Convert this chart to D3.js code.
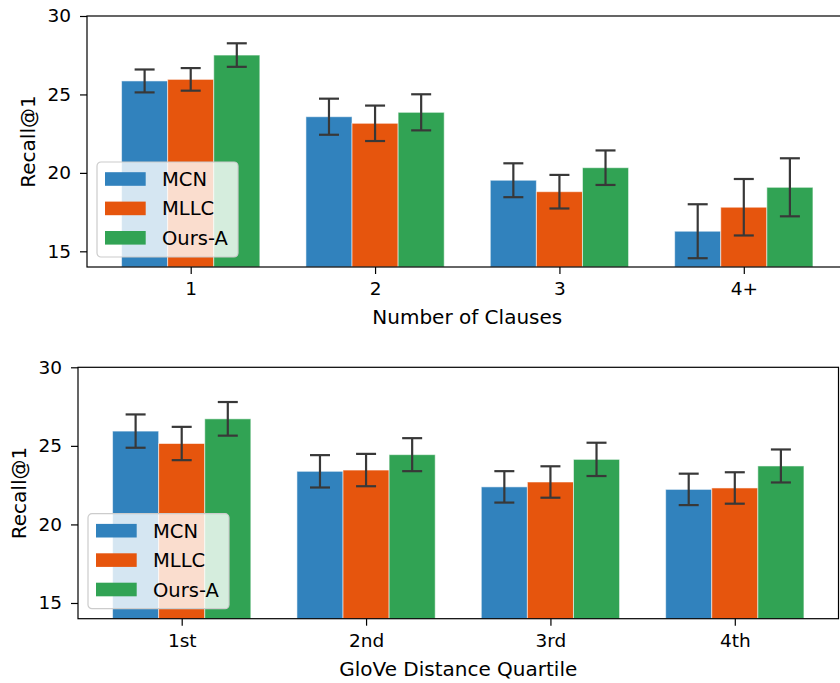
<!DOCTYPE html>
<html>
<head>
<meta charset="utf-8">
<script src="https://cdn.jsdelivr.net/npm/d3@7"></script>
<style>
    body { margin: 0; background: #fff; }
    svg { display: block; font-family: 'DejaVu Sans', sans-serif; }
</style>
</head>
<body>
<div id="chart"></div>
<script>
// Recall@1 per method

const seriesNames = ['MCN', 'MLLC', 'Ours-A'];
const seriesColors = ['#3182bd', '#e6550d', '#31a354'];
const yTicks = [15, 20, 25, 30];

// top panel: number of clauses
const clauseCats = ['1', '2', '3', '4+'];
const clauseMCN = [25.86, 23.58, 19.53, 16.28];
const clauseMLLC = [25.96, 23.16, 18.80, 17.81];
const clauseOurs = [27.51, 23.86, 20.33, 19.08];
const clauseErrMCN = [0.73, 1.15, 1.08, 1.72];
const clauseErrMLLC = [0.72, 1.13, 1.07, 1.80];
const clauseErrOurs = [0.75, 1.15, 1.10, 1.85];

// bottom panel: glove distance quartile
const gloveCats = ['1st', '2nd', '3rd', '4th'];
const gloveMCN = [25.94, 23.38, 22.39, 22.23];
const gloveMLLC = [25.15, 23.46, 22.70, 22.32];
const gloveOurs = [26.72, 24.44, 24.14, 23.72];
const gloveErrMCN = [1.06, 1.03, 1.00, 1.00];
const gloveErrMLLC = [1.06, 1.03, 1.00, 1.00];
const gloveErrOurs = [1.07, 1.05, 1.06, 1.05];

const W = 840;
const H = 683;
const tickFont = 18.5;
const legendFont = 19.5;
const labelFont = 20;
const barW = 0.25;

const svg = d3.select('#chart').append('svg')
    .attr('width', W)
    .attr('height', H);

const drawPanel = (p) => {
    const x = d3.scaleLinear()
        .domain([-0.5625, p.cats.length - 1 + 0.5625])
        .range([p.left, p.left + 760.5]);
    const y = d3.scaleLinear()
        .domain([14, 30])
        .range([p.bottom, p.top]);

    const g = svg.append('g');

    // flatten into one row per bar
    const bars = [];
    p.values.forEach((vals, s) => {
        vals.forEach((v, i) => {
            bars.push({ s, i, v, err: p.errs[s][i], cx: i + (s - 1) * barW });
        });
    });

    g.selectAll('.bar')
        .data(bars)
        .enter().append('rect')
        .attr('class', 'bar')
        .attr('x', d => x(d.cx - barW / 2))
        .attr('width', d => x(d.cx + barW / 2) - x(d.cx - barW / 2))
        .attr('y', d => y(d.v))
        .attr('height', d => y(14) - y(d.v))
        .style('fill', d => seriesColors[d.s])
        .style('stroke', '#fff')
        .style('stroke-opacity', 0.55)
        .style('stroke-width', 1);

    const eb = g.selectAll('.err')
        .data(bars)
        .enter().append('g')
        .attr('class', 'err')
        .style('stroke', '#383838')
        .style('stroke-width', 2.2);
    eb.append('line')
        .attr('x1', d => x(d.cx)).attr('x2', d => x(d.cx))
        .attr('y1', d => y(d.v - d.err)).attr('y2', d => y(d.v + d.err));
    eb.append('line')
        .attr('x1', d => x(d.cx) - 10).attr('x2', d => x(d.cx) + 10)
        .attr('y1', d => y(d.v + d.err)).attr('y2', d => y(d.v + d.err));
    eb.append('line')
        .attr('x1', d => x(d.cx) - 10).attr('x2', d => x(d.cx) + 10)
        .attr('y1', d => y(d.v - d.err)).attr('y2', d => y(d.v - d.err));

    // frame
    g.append('rect')
        .attr('x', x.range()[0])
        .attr('y', p.top)
        .attr('width', x.range()[1] - x.range()[0])
        .attr('height', p.bottom - p.top)
        .style('fill', 'none')
        .style('stroke', '#000')
        .style('stroke-width', 1.2);

    const yAxis = g.append('g')
        .attr('transform', `translate(${p.left},0)`)
        .call(d3.axisLeft(y).tickValues(yTicks).tickSize(7).tickPadding(9));
    const xAxis = g.append('g')
        .attr('transform', `translate(0,${p.bottom})`)
        .call(d3.axisBottom(x).tickValues(d3.range(p.cats.length)).tickFormat(i => p.cats[i]).tickSize(7).tickPadding(8));
    [xAxis, yAxis].forEach((a) => {
        a.select('.domain').remove();
        a.selectAll('line').style('stroke', '#000').style('stroke-width', 1.2);
        a.selectAll('text')
            .style('font-size', `${tickFont}px`)
            .style('font-family', 'DejaVu Sans')
            .style('fill', '#000');
    });

    // axis titles, centred on the axes box like matplotlib does
    g.append('text')
        .attr('x', d3.mean(x.range()))
        .attr('y', p.bottom + 57)
        .style('text-anchor', 'middle')
        .style('font-size', `${labelFont}px`)
        .text(p.xLabel);

    g.append('text')
        .attr('transform', `translate(${p.left - 52.5},${(p.top + p.bottom) / 2}) rotate(-90)`)
        .style('text-anchor', 'middle')
        .style('font-size', `${labelFont}px`)
        .text('Recall@1');

    // legend, lower left
    const lx = p.left + 10;
    const ly = p.bottom - 10 - 95;
    const legend = g.append('g').attr('transform', `translate(${lx},${ly})`);
    legend.append('rect')
        .attr('width', 141)
        .attr('height', 95)
        .attr('rx', 4)
        .style('fill', '#fff')
        .style('fill-opacity', 0.8)
        .style('stroke', '#ccc')
        .style('stroke-width', 1.2);
    const item = legend.selectAll('.legend-item')
        .data(seriesNames)
        .enter().append('g')
        .attr('class', 'legend-item')
        .attr('transform', (d, i) => `translate(0,${17 + i * 29.4})`);
    item.append('rect')
        .attr('x', 8)
        .attr('y', -6.8)
        .attr('width', 40.7)
        .attr('height', 13.6)
        .style('fill', (d, i) => seriesColors[i]);
    item.append('text')
        .attr('x', 65)
        .attr('dy', '0.36em')
        .style('font-size', `${legendFont}px`)
        .text(d => d);
};

drawPanel({
    left: 87, top: 16, bottom: 267,
    cats: clauseCats,
    values: [clauseMCN, clauseMLLC, clauseOurs],
    errs: [clauseErrMCN, clauseErrMLLC, clauseErrOurs],
    xLabel: 'Number of Clauses'
});

drawPanel({
    left: 78, top: 367.3, bottom: 618.7,
    cats: gloveCats,
    values: [gloveMCN, gloveMLLC, gloveOurs],
    errs: [gloveErrMCN, gloveErrMLLC, gloveErrOurs],
    xLabel: 'GloVe Distance Quartile'
});
</script>
</body>
</html>
